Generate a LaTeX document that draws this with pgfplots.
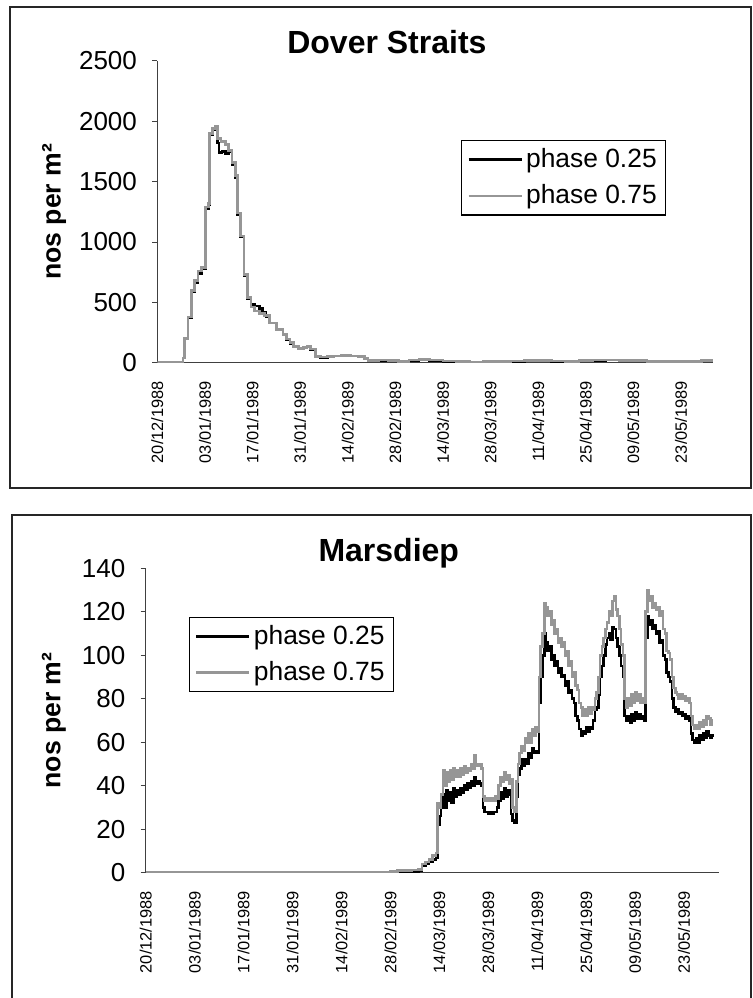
\documentclass[border=0pt]{standalone}
\usepackage{pgfplots}
\pgfplotsset{compat=1.18}
\usepackage{pgfplotstable}
\usepackage{fontspec}
\setmainfont{Liberation Sans}
\definecolor{serA}{RGB}{0,0,0}
\definecolor{serB}{RGB}{150,150,150}

\pgfplotstableread{
day val
0 0
7 0
7.5 40
8 200
9 370
10 590
11 660
12 740
13 780
14.2 1280
15 1310
15.3 1890
16.3 1930
17.2 1950
17.7 1820
18.2 1740
19 1750
20 1730
21 1750
22 1640
23 1530
23.6 1230
24.5 1040
25.5 720
26.5 530
27.5 480
28.5 470
30 450
31 420
32 380
33 330
35 270
37 230
38 190
39 160
40 130
41.5 115
43 125
44 130
45 110
46.5 50
48 45
50 50
52 55
54 60
57 55
59 50
61 35
62 15
65 20
68 15
71 10
74 20
77 25
80 20
84 12
88 8
92 5
96 8
100 10
104 12
108 15
112 18
116 12
120 10
124 15
128 20
132 22
136 18
140 15
144 10
148 8
152 6
156 10
160 15
163 12
}\doverA

\pgfplotstableread{
day val
0 0
7 0
7.5 40
8 200
9 380
10 600
11 680
12 760
13 790
14.2 1290
15 1320
15.3 1900
16.3 1940
17.2 1955
17.7 1860
18.7 1835
20 1810
21 1760
22 1660
23 1550
23.6 1240
24.5 1050
25.5 730
26.5 540
27.5 460
28.5 430
30 410
31.5 390
33 330
35 275
37 235
38 195
39 165
40 135
41.5 118
43 128
44 132
45 112
46.5 52
48 47
50 52
52 57
54 62
57 57
59 52
61 37
62 17
65 22
68 17
71 12
74 22
77 27
80 22
84 14
88 10
92 7
96 10
100 12
104 14
108 17
112 20
116 14
120 12
124 17
128 22
132 24
136 20
140 17
144 12
148 10
152 8
156 12
160 17
163 14
}\doverB

\pgfplotstableread{
day val
0 0
70 0
72 0.5
74 0.5
76 0.5
78 1
79 3
80 4
81 5
82 6
83 7
83.5 22
84 26
84.5 30
85 36
85.5 30
86 38
86.5 33
87 37
87.5 32
88 39
88.5 35
89 38
89.5 36
90 39
90.5 37
91 40
91.5 38
92 41
92.5 39
93 42
93.5 40
94 44
94.5 41
95 42
95.5 41
96 40
96.5 30
97 28
97.5 28
98 27
98.5 28
99 27
99.5 28
100 28
100.5 30
101 33
101.5 37
102 34
102.5 39
103 35
103.5 38
104 36
104.5 27
105 24
105.5 23
106 35
106.5 45
107 48
107.5 52
108 49
108.5 52
109 50
109.5 55
110 53
110.5 57
111 55
111.5 56
112 55
112.5 78
113 90
113.5 100
114 110
114.5 106
115 102
115.5 104
116 98
116.5 100
117 95
117.5 97
118 92
118.5 94
119 90
119.5 91
120 86
120.5 88
121 83
121.5 84
122 80
122.5 78
123 72
123.5 70
124 66
124.5 63
125 65
125.5 64
126 67
126.5 65
127 67
127.5 66
128 70
128.5 75
129 76
129.5 82
130 90
130.5 95
131 100
131.5 105
132 108
132.5 110
133 107
133.5 113
134 112
134.5 108
135 104
135.5 100
136 95
136.5 90
137 72
137.5 70
138 72
138.5 69
139 73
139.5 70
140 74
140.5 71
141 73
141.5 71
142 72
142.5 70
143 108
143.5 118
144 114
144.5 116
145 112
145.5 114
146 110
146.5 111
147 106
147.5 107
148 100
148.5 98
149 92
149.5 90
150 88
150.5 80
151 76
151.5 74
152 75
152.5 73
153 74
153.5 72
154 73
154.5 71
155 72
155.5 70
156 64
156.5 61
157 60
157.5 62
158 60
158.5 63
159 61
159.5 64
160 62
160.5 65
161 63
161.5 62
162 63
162.3 64
}\marsA

\pgfplotstableread{
day val
0 0
70 0.5
72 1
74 1
76 1.2
78 1.5
79 4
80 5
81 6
82 8
83 9
83.5 32
84 30
84.5 36
85 47
85.5 40
86 46
86.5 42
87 47
87.5 43
88 48
88.5 44
89 47
89.5 44
90 48
90.5 45
91 49
91.5 46
92 48
92.5 47
93 50
93.5 48
94 54
94.5 50
95 49
95.5 50
96 48
96.5 35
97 33
97.5 34
98 33
98.5 33
99 34
99.5 33
100 35
100.5 34
101 40
101.5 44
102 42
102.5 46
103 43
103.5 45
104 41
104.5 43
105 30
105.5 28
106 42
106.5 50
107 55
107.5 58
108 56
108.5 62
109 60
109.5 64
110 60
110.5 66
111 63
111.5 67
112 65
112.5 90
113 104
113.5 110
114 124
114.5 122
115 118
115.5 120
116 114
116.5 116
117 110
117.5 112
118 106
118.5 108
119 104
119.5 106
120 100
120.5 102
121 95
121.5 97
122 90
122.5 92
123 86
123.5 84
124 78
124.5 76
125 72
125.5 75
126 72
126.5 76
127 73
127.5 76
128 75
128.5 80
129 83
129.5 90
130 100
130.5 104
131 108
131.5 112
132 115
132.5 120
133 118
133.5 125
134 127
134.5 121
135 118
135.5 112
136 105
136.5 100
137 80
137.5 76
138 80
138.5 77
139 82
139.5 78
140 83
140.5 79
141 82
141.5 78
142 80
142.5 78
143 120
143.5 130
144 125
144.5 127
145 122
145.5 124
146 121
146.5 122
147 118
147.5 120
148 112
148.5 110
149 102
149.5 101
150 98
150.5 90
151 85
151.5 83
152 82
152.5 80
153 82
153.5 80
154 81
154.5 79
155 80
155.5 78
156 72
156.5 68
157 66
157.5 68
158 66
158.5 69
159 67
159.5 70
160 68
160.5 72
161 71
161.5 68
162 70
162.3 70
}\marsB

\pgfplotsset{
  myaxis/.style={
    scale only axis,
    axis lines*=left,
    axis line style={black!75, line width=0.5pt},
    tick align=outside,
    major tick length=2.5pt,
    xtick style={draw=none},
    ytick style={black!75, line width=0.5pt},
    xmin=0,
    ymin=0,
    xtick={0,14,...,154},
    xticklabels={20/12/1988,03/01/1989,17/01/1989,31/01/1989,14/02/1989,28/02/1989,14/03/1989,28/03/1989,11/04/1989,25/04/1989,09/05/1989,23/05/1989},
    xticklabel style={rotate=90, anchor=east, inner sep=0pt, font=\fontsize{8.2}{9.8}\selectfont},
    xticklabel shift=6.5pt,
    yticklabel style={inner sep=0pt, font=\fontsize{13}{15}\selectfont},
    yticklabel shift=7.5pt,
    /pgf/number format/assume math mode=true,
    /pgf/number format/1000 sep={},
    ylabel={nos per m²},
    ylabel style={font=\bfseries\fontsize{13.3}{15}\selectfont, anchor=center},
    every axis title shift=0pt,
    title style={font=\bfseries\fontsize{16}{19}\selectfont, anchor=base, yshift=0pt},
    legend cell align=left,
    legend style={draw=black, line width=0.6pt, inner xsep=2.9pt, inner ysep=0.5pt,
      font=\fontsize{13.2}{15}\selectfont, anchor=north west,
      nodes={inner xsep=1.6pt, inner ysep=3.5pt}},
    legend image code/.code={\draw[##1] (0pt,0pt) -- (26.5pt,0pt);},
    every axis plot/.append style={const plot, line width=1.3pt},
  }
}

\begin{document}
\begin{tikzpicture}
\useasboundingbox (0,0) rectangle (376.5pt,499pt);
\draw[line width=1pt, black!85] (5pt,255pt) rectangle (375.5pt,495.5pt);
\draw[line width=1pt, black!85] (6pt,-3pt) -- (6pt,241.5pt) -- (375.5pt,241.5pt) -- (375.5pt,-3pt);

\begin{axis}[myaxis,
  at={(78.65pt,317.65pt)}, anchor=south west,
  width=278pt, height=150.85pt,
  xmax=163.5, ymax=2500, ytick={0,500,...,2500},
  title={Dover Straits},
  title style={at={(axis description cs:0.413,1.0265)}},
  ylabel style={at={(axis description cs:-0.1856,0.5)}},
  legend style={at={(axis description cs:0.546,0.738)}},
]
\addplot[serA] table[x=day,y=val] {\doverA};
\addplot[serB] table[x=day,y=val] {\doverB};
\legend{phase 0.25,phase 0.75}
\end{axis}

\begin{axis}[myaxis,
  at={(72.85pt,62.65pt)}, anchor=south west,
  width=286.65pt, height=152.2pt,
  xmax=164, ymax=140, ytick={0,20,...,140},
  title={Marsdiep},
  title style={at={(axis description cs:0.424,1.0207)}},
  ylabel style={at={(axis description cs:-0.16,0.5)}},
  legend style={at={(axis description cs:0.075,0.841)}},
]
\addplot[serA] table[x=day,y=val] {\marsA};
\addplot[serB] table[x=day,y=val] {\marsB};
\legend{phase 0.25,phase 0.75}
\end{axis}
\end{tikzpicture}
\end{document}
